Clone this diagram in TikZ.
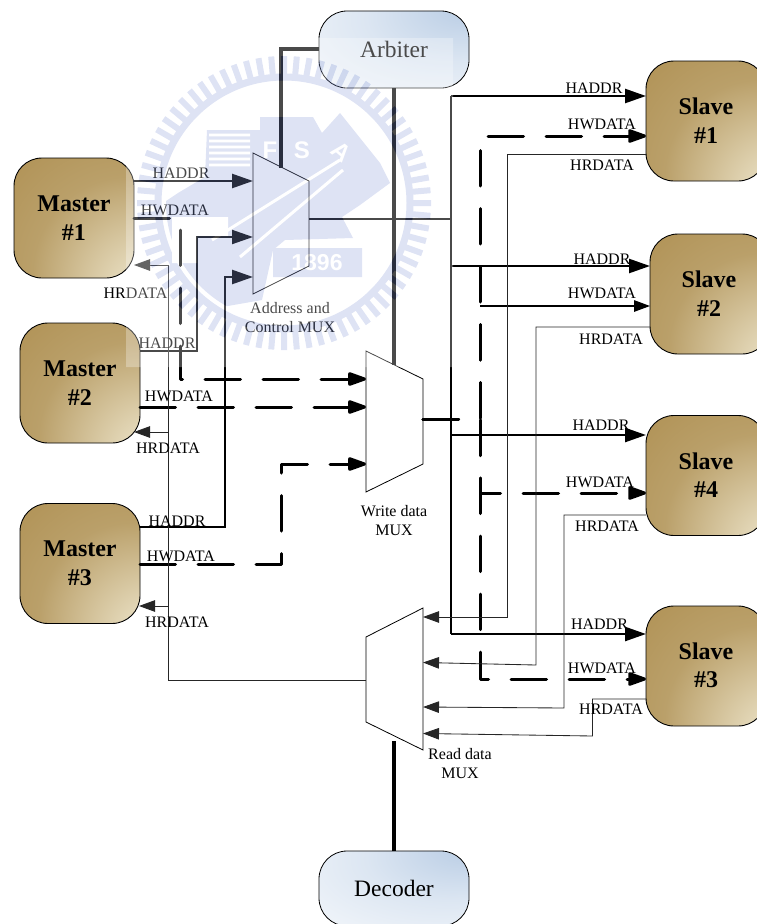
\documentclass[tikz,border=0pt]{standalone}
\usepackage{fontspec}
\setmainfont{Liberation Serif}
\newfontfamily\wmfont{Liberation Sans}
\usetikzlibrary{arrows.meta}
\definecolor{wmblue}{RGB}{141,158,216}
\definecolor{gA}{RGB}{247,243,230}
\definecolor{gB}{RGB}{226,214,182}
\definecolor{gC}{RGB}{186,160,106}
\definecolor{gD}{RGB}{168,134,68}
\definecolor{bA}{RGB}{184,204,228}
\definecolor{bB}{RGB}{220,230,242}
\pgfdeclareradialshading{goldshade}{\pgfpoint{38bp}{-38bp}}{color(0bp)=(gA); color(16bp)=(gB); color(40bp)=(gC); color(75bp)=(gD); color(100bp)=(gD)}
\pgfdeclareradialshading{blueshade}{\pgfpoint{26bp}{28bp}}{color(0bp)=(bA); color(28bp)=(bB); color(70bp)=(white); color(100bp)=(white)}
\tikzset{
  lbl/.style={font=\fontsize{16}{19}\selectfont, inner sep=0pt, align=center},
  bigtext/.style={font=\fontsize{24}{28.5}\selectfont\bfseries, align=center},
  brown box/.style={draw=black, line width=.9pt, rounded corners=28pt, shading=goldshade, minimum width=120pt, minimum height=120pt, inner sep=0pt, outer sep=0pt, bigtext},
  blue box/.style={draw=black, line width=.8pt, rounded corners=28pt, shading=blueshade, minimum width=150pt, minimum height=77pt, inner sep=0pt, outer sep=0pt, font=\fontsize{23.5}{28}\selectfont},
  muxline/.style={draw=black, line width=.8pt, line join=miter},
  thin wire/.style={line width=.85pt, draw=black!85, -{Triangle[length=16pt,width=11.5pt]}},
  thick wire/.style={line width=2.5pt, -{Triangle[length=21pt,width=14pt]}},
  bus wire/.style={line width=2.6pt},
  heavy wire/.style={line width=4.5pt},
  dash wire/.style={line width=3pt, line cap=round, line join=round, dash pattern=on 35.5pt off 22.5pt},
  dash arrow/.style={dash wire, -{Triangle[length=21pt,width=14pt,round=false]}},
}
\begin{document}
\begin{tikzpicture}[x=1pt,y=-1pt]
\useasboundingbox (0,0) rectangle (757,924);
\clip (0,0) rectangle (757,924);

% boxes
\node[brown box] (m1) at (74,218) {Master\\\#1};
\node[brown box] (m2) at (80,383) {Master\\\#2};
\node[brown box] (m3) at (80,563.5) {Master\\\#3};
\node[brown box] (s1) at (706,121) {};
\node[brown box] (s2) at (710,294) {};
\node[brown box] (s4) at (706,475.5) {};
\node[brown box] (s3) at (706,666) {};
\node[bigtext] (s1t) at (706,120.5) {Slave\\\#1};
\node[bigtext] (s2t) at (709,293.5) {Slave\\\#2};
\node[bigtext] (s4t) at (706,475) {Slave\\\#4};
\node[bigtext] (s3t) at (706,665.5) {Slave\\\#3};
\node[blue box] (arb) at (394,49.5) {Arbiter};
\node[blue box, minimum height=75pt] (dec) at (394,888.5) {Decoder};

% muxes
\coordinate (muxAa) at (253,153);
\coordinate (muxAb) at (309,181);
\coordinate (muxAc) at (309,266);
\coordinate (muxAd) at (253,294);
\coordinate (muxWa) at (366,351);
\coordinate (muxWb) at (423,379);
\coordinate (muxWc) at (423,464);
\coordinate (muxWd) at (366,492);
\coordinate (muxRa) at (423,608);
\coordinate (muxRb) at (366,637);
\coordinate (muxRc) at (366,722);
\coordinate (muxRd) at (423,750);
\draw[muxline] (muxAa) -- (muxAb) -- (muxAc) -- (muxAd) -- cycle;
\draw[muxline] (muxWa) -- (muxWb) -- (muxWc) -- (muxWd) -- cycle;
\draw[muxline] (muxRa) -- (muxRb) -- (muxRc) -- (muxRd) -- cycle;

% junction points
\coordinate (busTop) at (451,96);
\coordinate (busBot) at (451,634);
\coordinate (dj) at (480,419);
\coordinate (rdbus) at (168,680);

% arbiter, decoder
\draw[heavy wire] (arb.west |- 0,49) -- (281,49) -- (281,167.5);
\draw[heavy wire] (arb.south) -- (394,365);
\draw[heavy wire] (dec.north) -- (394,741);

% master 1
\draw[thick wire] (m1.east |- 0,181) -- (muxAa |- 0,181);
\draw[dash arrow] (m1.east |- 0,218) -- (180,218) -- (180,379) -- (muxWa |- 0,379);
% master 2
\draw[line width=2pt, -{Triangle[length=21pt,width=14pt]}] (m2.east |- 0,351) -- (197,351) -- (197,237) -- (muxAa |- 0,237);
\draw[dash arrow] (m2.east |- 0,407) -- (muxWa |- 0,407);
% master 3
\draw[thick wire] (m3.east |- 0,527) -- (225,527) -- (225,277) -- (muxAa |- 0,277);
\draw[dash arrow] (m3.east |- 0,564) -- (281,564) -- (281,464) -- (muxWa |- 0,464);
% read data to masters
\draw[thin wire] (muxRb |- 0,680) -- (rdbus) -- (168,265) -- (m1.east |- 0,265);
\draw[thin wire] (168,432) -- (134,432);
\draw[thin wire] (168,606) -- (139,606);

% address bus
\draw[line width=2pt] (muxAb |- 0,219) -- (451,219);
\draw[bus wire] (busTop) -- (busBot);
\draw[thick wire] (busTop) -- (s1.west |- 0,96);
\draw[thick wire] (451,266) -- (s2.west |- 0,266);
\draw[thick wire] (451,435) -- (s4.west |- 0,435);
\draw[thick wire] (busBot) -- (s3.west |- 0,634);

% write data bus
\draw[dash arrow] (muxWb |- 0,419) -- (dj) -- (480,136) -- (s1.west |- 0,136);
\draw[dash arrow] (muxWb |- 0,419) -- (dj) -- (480,493) -- (s4.west |- 0,493);
\draw[dash arrow] (muxWb |- 0,419) -- (dj) -- (480,679) -- (s3.west |- 0,679);
\draw[dash wire] (muxWb |- 0,419) -- (dj) -- (480,306);
\draw[line width=1.3pt, -{Triangle[length=16pt,width=11.5pt]}] (480,306) -- (s2.west |- 0,306);

% read data from slaves
\draw[thin wire] (s1.west |- 0,154) -- (507,154) -- (507,617) -- (muxRa |- 0,617);
\draw[thin wire] (s2.west |- 0,327) -- (536,327) -- (536,665) -- (muxRa |- 0,662.5);
\draw[thin wire] (s4.west |- 0,515) -- (564,515) -- (564,708) -- (muxRa |- 0,707);
\draw[thin wire] (s3.west |- 0,699) -- (592.5,699) -- (592.5,736) -- (muxRa |- 0,733.5);

% labels
\node[lbl] (l1) at (181,173) {HADDR};
\node[lbl] (l2) at (175,210) {HWDATA};
\node[lbl] (l3) at (135.5,293) {HRDATA};
\node[lbl] (l4) at (167,343) {HADDR};
\node[lbl] (l5) at (179,396) {HWDATA};
\node[lbl] (l6) at (168,448) {HRDATA};
\node[lbl] (l7) at (177,521) {HADDR};
\node[lbl] (l8) at (181,556) {HWDATA};
\node[lbl] (l9) at (177,622) {HRDATA};
\node[lbl] (l10) at (594,88) {HADDR};
\node[lbl] (l11) at (602,124) {HWDATA};
\node[lbl] (l12) at (602,165) {HRDATA};
\node[lbl] (l13) at (602,259) {HADDR};
\node[lbl] (l14) at (602,293) {HWDATA};
\node[lbl] (l15) at (611,339) {HRDATA};
\node[lbl] (l16) at (601,425) {HADDR};
\node[lbl] (l17) at (600,482) {HWDATA};
\node[lbl] (l18) at (607,526) {HRDATA};
\node[lbl] (l19) at (599.5,624) {HADDR};
\node[lbl] (l20) at (602,668) {HWDATA};
\node[lbl] (l21) at (611,709) {HRDATA};
\node[lbl] (t1) at (290,317.5) {Address and\\Control MUX};
\node[lbl] (t2) at (394,520.5) {Write data\\MUX};
\node[lbl] (t3) at (460,763.5) {Read data\\MUX};

% watermark overlay
\begin{scope}[transparency group, opacity=.29]
  \fill[white] (126,38) rectangle (453,367);
  \begin{scope}[shift={(284,203)}]
    \foreach \a in {0,5,...,355} \draw[wmblue, line width=6pt] (\a:128) -- (\a:147);
    \draw[wmblue, line width=7pt] (0,0) circle[radius=126];
  \end{scope}
  \begin{scope}
    \clip (284,203) circle[radius=118];
    \fill[wmblue] (160,205) -- (178,193) -- (205,177) -- (207,130) -- (260,130) -- (260,117) -- (313,117) -- (322,133) -- (340,113) -- (380,163) -- (390,183) -- (360,205) -- (342,217) -- (353,238) -- (285,240) -- (273,250) -- (262,300) -- (205,310) -- (165,260) -- cycle;
  \end{scope}
  \fill[wmblue] (273,248) rectangle (362,277);
  \foreach \yy in {135,141,...,165} \draw[white, line width=2.6pt] (209,\yy) -- (250,\yy);
  \draw[white, line width=3pt] (240,257) -- (343,170);
  \draw[white, line width=3pt] (212,240) -- (340,160);
  \node[white, font=\fontsize{24}{24}\selectfont\wmfont\bfseries] (wmF) at (270,150) {F};
  \node[white, font=\fontsize{24}{24}\selectfont\wmfont\bfseries] (wmS) at (302,150) {S};
  \node[white, font=\fontsize{24}{24}\selectfont\wmfont\bfseries, rotate=-40] (wmA) at (341,152) {A};
  \node[white, font=\fontsize{23}{23}\selectfont\wmfont\bfseries] (wmY) at (317,263) {1896};
  \fill[white] (172,217) rectangle (228,236);
  \fill[white] (172,217) rectangle (197,263);
\end{scope}
\end{tikzpicture}
\end{document}
